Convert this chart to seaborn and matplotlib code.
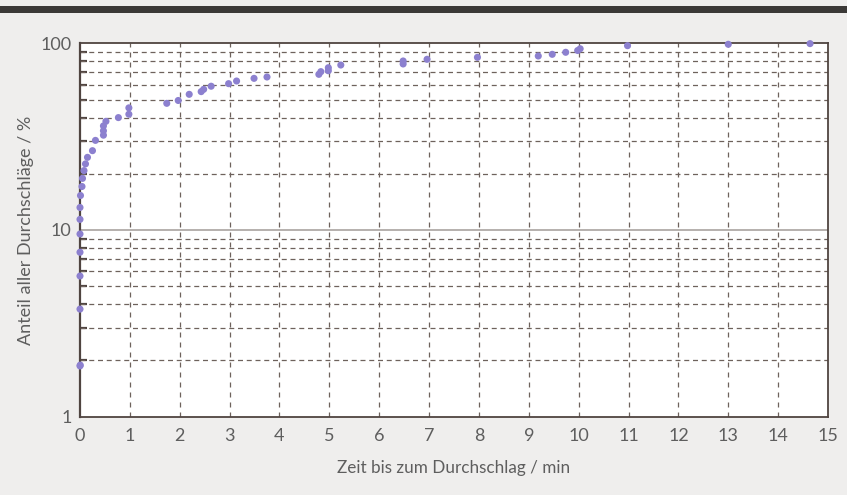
import matplotlib
matplotlib.use("Agg")
import matplotlib.pyplot as plt
import matplotlib.ticker as mticker
from matplotlib.patches import Rectangle
import seaborn as sns
import pandas as pd

# Data (time in min, cumulative share in %)
zeit = [0.0, 0.005, 0.0, 0.0, 0.0, 0.0, 0.0, 0.0, 0.01, 0.04, 0.05, 0.08, 0.11,
        0.15, 0.25, 0.31, 0.47, 0.47, 0.47, 0.52, 0.77, 0.98, 0.98, 1.74,
        1.97, 2.19, 2.43, 2.48, 2.63, 2.98, 3.14, 3.49, 3.75, 4.79, 4.83,
        4.98, 4.98, 5.23, 6.48, 6.48, 6.96, 7.97, 9.19, 9.47, 9.74, 9.98,
        10.03, 10.98, 13.0, 14.64]
anteil = [1.87, 1.89, 3.77, 5.67, 7.6, 9.52, 11.4, 13.2, 15.3, 17.1, 18.9,
          20.8, 22.6, 24.5, 26.6, 30.2, 32.2, 34.0, 36.1, 38.2, 40.0, 41.7,
          45.1, 47.7, 49.4, 53.3, 55.1, 56.7, 58.9, 60.8, 62.8, 64.9, 66.0,
          68.2, 70.5, 71.3, 74.0, 76.5, 77.5, 80.4, 82.1, 84.1, 85.5, 87.3,
          89.5, 91.5, 93.5, 97.1, 98.8, 99.6]
x_ticks = list(range(0, 16))
y_ticks = [1, 10, 100]
y_ticklabels = ["1", "10", "100"]
x_label = "Zeit bis zum Durchschlag / min"
y_label = "Anteil aller Durchschläge / %"

df = pd.DataFrame({"zeit": zeit, "anteil": anteil})

sns.set_theme(style="white")
plt.rcParams["font.family"] = ["Lato", "DejaVu Sans"]

W, H = 847, 495
fig = plt.figure(figsize=(W / 100, H / 100), dpi=100)
fig.patch.set_facecolor("#efeeed")
fig.patches.append(Rectangle((0, 1 - 13 / H), 1, 7 / H, transform=fig.transFigure,
                             facecolor="#3b3937", edgecolor="none", zorder=0))

ax = fig.add_axes([80 / W, 1 - 416.7 / H, (828 - 80) / W, (416.7 - 43.3) / H])
ax.set_facecolor("white")
ax.set_yscale("log")
ax.set_xlim(0, 15)
ax.set_ylim(1, 100)

grid_col = "#6e625c"
# vertical dashed grid
for xv in range(1, 15):
    ax.axvline(xv, color=grid_col, lw=0.9, ls=(0, (4, 4)), zorder=1)
# horizontal dashed grid at minor log positions
for dec in (1, 10):
    for m in range(2, 10):
        ax.axhline(dec * m, color=grid_col, lw=0.9, ls=(0, (4, 3)), zorder=1)
ax.axhline(10, color="#b5b0ad", lw=1.4, ls="-", zorder=1)

sns.scatterplot(data=df, x="zeit", y="anteil", ax=ax, color="#8c80cf",
                s=26, edgecolor="none", linewidth=0, zorder=3, clip_on=False)

spine_col = "#4f4440"
for side, sp in ax.spines.items():
    sp.set_color(spine_col)
    sp.set_linewidth(1.3)
ax.spines["left"].set_linewidth(1.6)

ax.set_xticks(x_ticks)
ax.set_xticklabels([str(v) for v in x_ticks])
ax.set_yticks(y_ticks)
ax.set_yticklabels(y_ticklabels)
ax.yaxis.set_minor_locator(mticker.LogLocator(base=10, subs=range(2, 10)))
ax.yaxis.set_minor_formatter(mticker.NullFormatter())

txt_col = "#5e5e5e"
ax.tick_params(axis="x", which="major", length=0, pad=8, labelsize=13,
               labelcolor=txt_col)
ax.tick_params(axis="y", which="major", direction="in", length=5, width=1.6,
               color=spine_col, pad=6, labelsize=13, labelcolor=txt_col)
ax.tick_params(axis="y", which="minor", direction="in", length=5, width=1.6,
               color=spine_col, left=True)

ax.set_xlabel(x_label, fontsize=12.3, color=txt_col, labelpad=12)
ax.set_ylabel(y_label, fontsize=13, color=txt_col, labelpad=5)

fig.savefig("out.png", dpi=100, facecolor=fig.get_facecolor())
